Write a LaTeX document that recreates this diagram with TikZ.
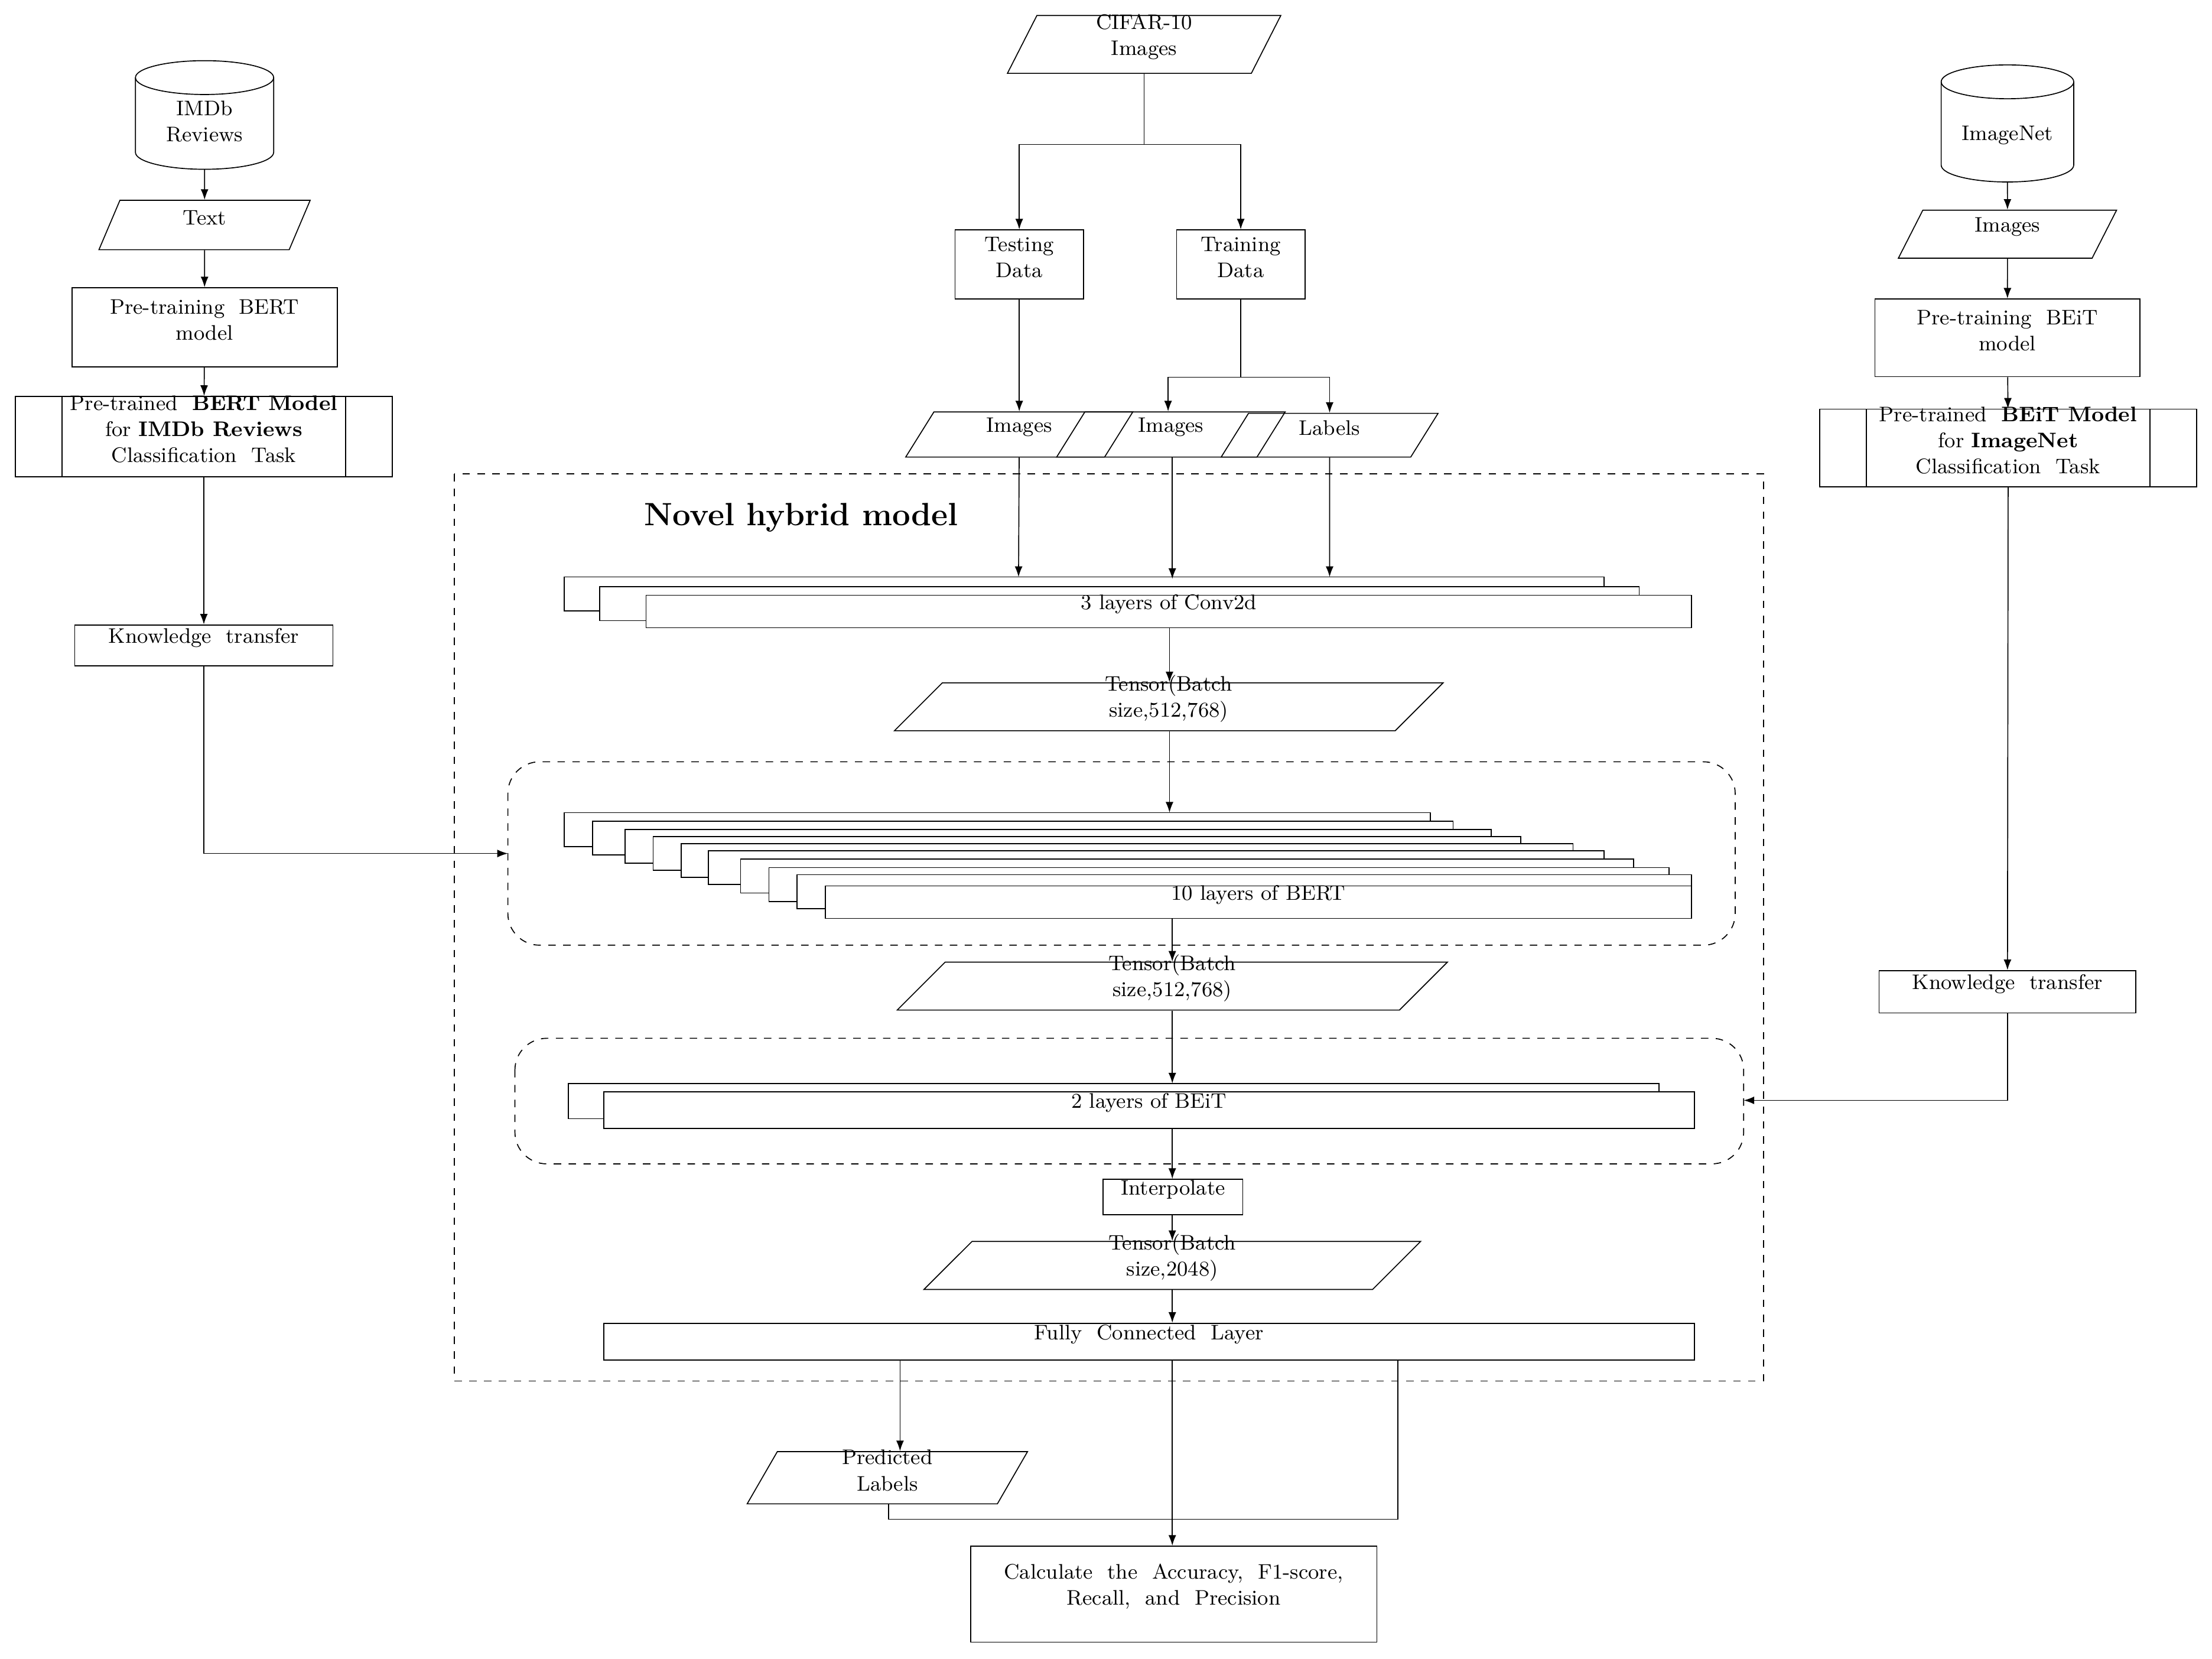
\documentclass[tikz,border=0pt]{standalone}
\usetikzlibrary{shapes.geometric,fit,arrows.meta,calc}
\begin{document}
\begin{tikzpicture}[x=0.02cm,y=-0.02cm,
  every node/.style={font=\fontsize{8.5}{10.5}\selectfont},
  box/.style={draw,inner sep=0pt,align=center},
  pg/.style={draw,shape=trapezium,trapezium stretches=true,inner sep=0pt,align=center},
  lay/.style={draw,fill=white},
  arr/.style={-{Latex[length=1.5mm,width=1.1mm]}},
  dbox/.style={dashed,rounded corners=0.45cm}]
\useasboundingbox (0,0) rectangle (1568,1176);
% ---- left column
\draw (96,55) -- (96,108) arc[start angle=180,end angle=360,x radius=0.98cm,y radius=0.24cm] -- (194,55);
\draw (145,55) ellipse [x radius=0.98cm,y radius=0.24cm];
\node[align=center] (imdb) at (145,86) {IMDb\\Reviews};
\coordinate (imdbb) at (145,120);
\node[pg,trapezium left angle=67,trapezium right angle=113,fit={(85,142)(205,177)}] (text) {Text};
\node[box,fit={(51,204)(239,260)}] (ptb) {Pre-training\ \ BERT\\model};
\node[box,fit={(11,281)(278,338)}] (bertm) {Pre-trained\ \ \textbf{BERT Model}\\for \textbf{IMDb Reviews}\\Classification\ \ Task};
\draw (44,281) -- (44,338) (245,281) -- (245,338);
\node[box,fit={(53,443)(236,472)}] (kt1) {Knowledge\ \ transfer};
% ---- right column
\draw (1376,58) -- (1376,117) arc[start angle=180,end angle=360,x radius=0.94cm,y radius=0.24cm] -- (1470,58);
\draw (1423,58) ellipse [x radius=0.94cm,y radius=0.24cm];
\node (inet) at (1423,96) {ImageNet};
\coordinate (inetb) at (1423,129);
\node[pg,trapezium left angle=63,trapezium right angle=117,fit={(1363,149)(1483,183)}] (img0) {Images};
\node[box,fit={(1329,212)(1517,267)}] (ptbe) {Pre-training\ \ BEiT\\model};
\node[box,fit={(1290,290)(1557,345)}] (beitm) {Pre-trained\ \ \textbf{BEiT Model}\\for \textbf{ImageNet}\\Classification\ \ Task};
\draw (1323,290) -- (1323,345) (1524,290) -- (1524,345);
\node[box,fit={(1332,688)(1514,718)}] (kt2) {Knowledge\ \ transfer};
% ---- top middle
\node[pg,trapezium left angle=63,trapezium right angle=117,fit={(735,11)(887,52)}] (cifar) {CIFAR-10\\Images};
\node[box,fit={(677,163)(768,212)}] (test) {Testing\\Data};
\node[box,fit={(834,163)(925,212)}] (train) {Training\\Data};
\node[pg,trapezium left angle=58,trapezium right angle=122,fit={(662,292)(783,324)}] (im1) {Images};
\node[pg,trapezium left angle=58,trapezium right angle=122,fit={(769,292)(891,324)}] (im2) {Images};
\node[pg,trapezium left angle=58,trapezium right angle=122,fit={(885,293)(1000,324)}] (lab) {Labels};
% ---- hybrid model
\draw[dashed] (322,336) rectangle (1250,979);
\node[font=\fontsize{13}{15}\selectfont\bfseries] (title) at (568,367) {Novel hybrid model};
\draw[lay] (400,409) rectangle (1137,433);
\draw[lay] (425,416) rectangle (1162,440);
\node[box,fill=white,fit={(458,422)(1199,445)}] (conv) {3 layers of Conv2d};
\coordinate (convtop) at (722,409);
\node[pg,trapezium left angle=45,trapezium right angle=135,fit={(668,484)(989,518)}] (t1) {Tensor(Batch\\size,512,768)};
\draw[dbox] (360,540) rectangle (1230,670);
\draw[lay] (400,576) rectangle (1014,600);
\draw[lay] (420,582) rectangle (1030,606);
\draw[lay] (443,588) rectangle (1057,612);
\draw[lay] (463,593) rectangle (1078,617);
\draw[lay] (483,598) rectangle (1115,622);
\draw[lay] (502,603) rectangle (1137,627);
\draw[lay] (525,609) rectangle (1158,633);
\draw[lay] (545,615) rectangle (1183,639);
\draw[lay] (565,620) rectangle (1199,644);
\node[box,fill=white,fit={(585,628)(1199,651)}] (bert) {10 layers of BERT};
\coordinate (berttop) at (829,576);
\coordinate (bertl) at (360,605);
\node[pg,trapezium left angle=45,trapezium right angle=135,fit={(670,682)(992,716)}] (t2) {Tensor(Batch\\size,512,768)};
\draw[dbox] (365,736) rectangle (1236,825);
\draw[lay] (403,768) rectangle (1176,793);
\node[box,fill=white,fit={(428,774)(1201,800)}] (beit) {2 layers of BEiT};
\coordinate (beittop) at (831,768);
\coordinate (beitr) at (1236,780);
\node[box,fit={(782,836)(881,861)}] (interp) {Interpolate};
\node[pg,trapezium left angle=45,trapezium right angle=135,fit={(689,880)(973,914)}] (t3) {Tensor(Batch\\size,2048)};
\node[box,fit={(428,938)(1201,964)}] (fc) {Fully\ \ Connected\ \ Layer};
\node[pg,trapezium left angle=60,trapezium right angle=120,fit={(551,1029)(707,1066)}] (pred) {Predicted\\Labels};
\node[box,fit={(688,1096)(976,1164)}] (calc) {Calculate\ \ the\ \ Accuracy,\ \ F1-score,\\Recall,\ \ and\ \ Precision};
% ---- connectors
\draw[arr] (imdbb) -- (text);
\draw[arr] (text) -- (ptb);
\draw[arr] (ptb) -- (bertm);
\draw[arr] (bertm) -- (kt1);
\draw[arr] (kt1) |- (bertl);
\draw[arr] (inetb) -- (img0);
\draw[arr] (img0) -- (ptbe);
\draw[arr] (ptbe) -- (beitm);
\draw[arr] (beitm) -- (kt2);
\draw[arr] (kt2) |- (beitr);
\draw (cifar.south) -- ++(0,50) coordinate (c1);
\draw[arr] (c1) -| (test.north);
\draw[arr] (c1) -| (train.north);
\draw[arr] (test) -- (test |- im1.north);
\draw (train.south) -- ++(0,55) coordinate (c2);
\draw[arr] (c2) -| ($(im2.north)+(-2,0)$);
\draw[arr] (c2) -| (lab.north);
\draw[arr] (im1) -- (convtop);
\draw[arr] ($(im2.south)+(1,0)$) -- ++(0,86);
\draw[arr] (lab) -- (lab |- convtop);
\draw[arr] (conv.south -| 829,0) -- (t1.north -| 829,0);
\draw[arr] (t1.south -| 829,0) -- (berttop);
\draw[arr] (bert.south -| 831,0) -- (t2.north -| 831,0);
\draw[arr] (t2.south -| 831,0) -- (beittop);
\draw[arr] (beit.south -| 831,0) -- (interp.north -| 831,0);
\draw[arr] (interp.south -| 831,0) -- (t3.north -| 831,0);
\draw[arr] (t3.south -| 831,0) -- (fc.north -| 831,0);
\draw[arr] (fc.south -| 638,0) -- (pred.north -| 638,0);
\draw[arr] (fc.south -| 831,0) -- (calc.north -| 831,0);
\draw (fc.south -| 991,0) |- (630,1077) -- (pred.south -| 630,0);
\end{tikzpicture}
\end{document}
